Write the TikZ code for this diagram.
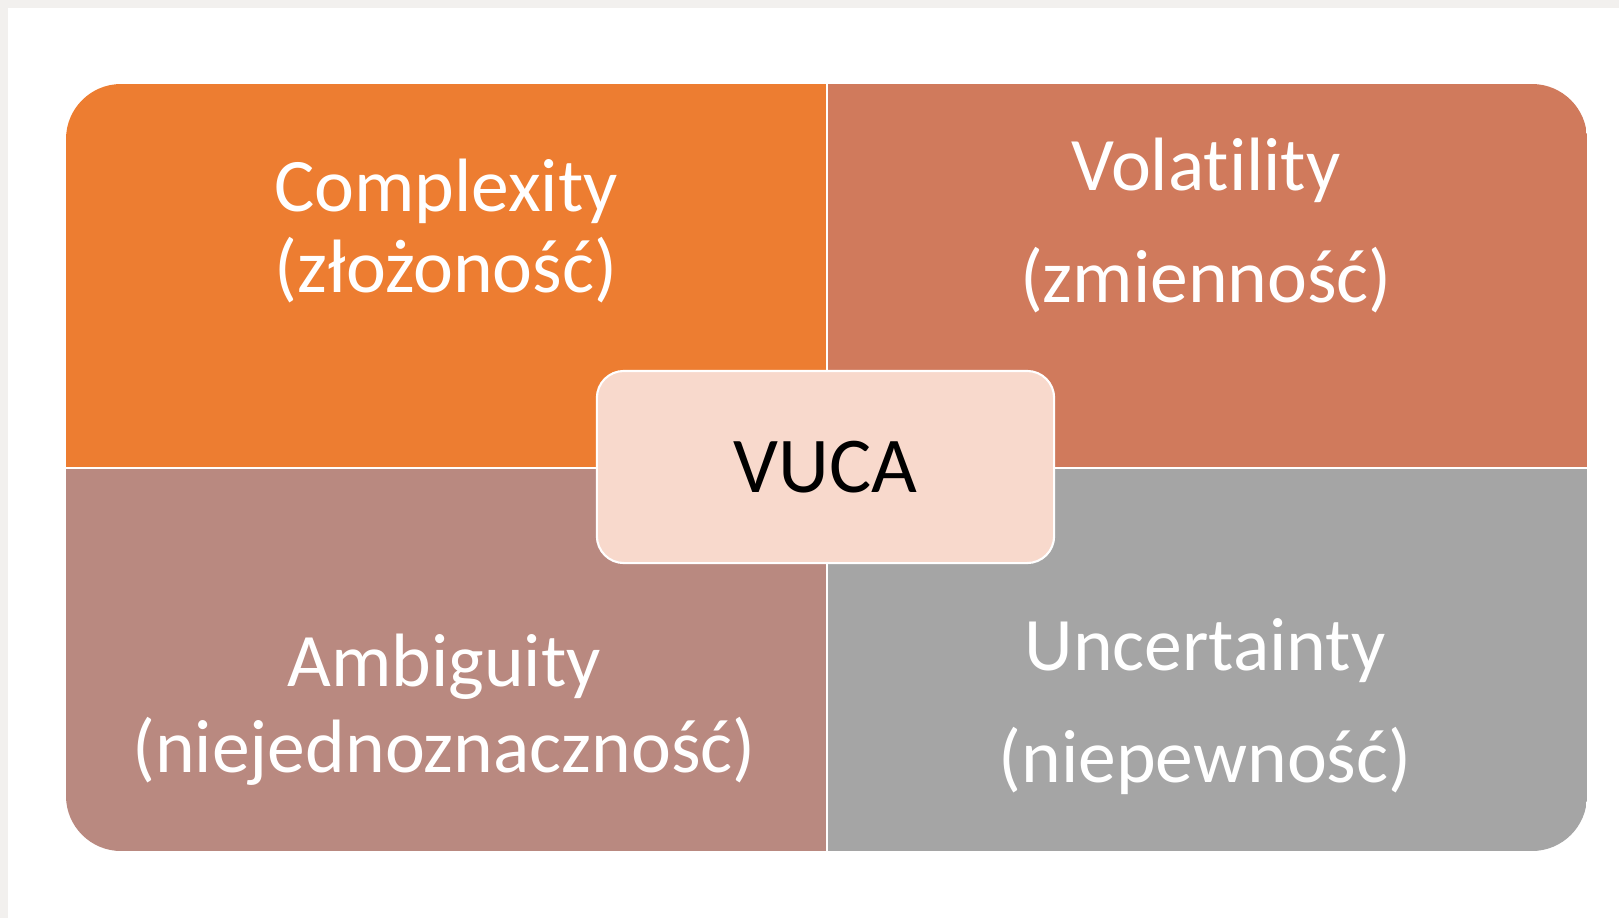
\documentclass[tikz,border=0pt]{standalone}
\usepackage{fontspec}
\setmainfont{Carlito}[Ligatures={NoCommon,NoRequired,NoContextual}]
\usepackage{tikz}

\definecolor{orangeq}{RGB}{237,125,49}
\definecolor{rustq}{RGB}{208,122,92}
\definecolor{roseq}{RGB}{185,137,128}
\definecolor{greyq}{RGB}{165,165,165}
\definecolor{hubfill}{RGB}{248,217,204}
\definecolor{edgegrey}{RGB}{242,240,238}

\begin{document}
\begin{tikzpicture}[x=0.01cm,y=-0.01cm]
	\tikzstyle{word}=[text=white, anchor=base, inner sep=0pt, font=\fontsize{21.5}{25}\selectfont]
	\tikzstyle{hub}=[rectangle, rounded corners=2.7mm, fill=hubfill, draw=white, line width=0.6pt, minimum width=4.57cm, minimum height=1.92cm, font=\fontsize{22.5}{27}\selectfont]
	\tikzstyle{split}=[white, line width=0.7pt]

	\useasboundingbox (0,0) rectangle (1619,918);
	\fill[edgegrey] (0,0) rectangle (1619,8);
	\fill[edgegrey] (0,0) rectangle (7.5,918);

	% four quarters, cut to one rounded frame
	\begin{scope}
		\clip[rounded corners=5.5mm] (66,84) rectangle (1587,851);
		\fill[orangeq] (66,84) rectangle (827,468);
		\fill[rustq] (827,84) rectangle (1587,468);
		\fill[roseq] (66,468) rectangle (827,851);
		\fill[greyq] (827,468) rectangle (1587,851);
	\end{scope}
	\draw[split] (827,84) -- (827,851);
	\draw[split] (66,468) -- (1587,468);

	\node [word] (c1) at (446,211) {Complexity};
	\node [word] (c2) at (446,292) {(złożoność)};
	\node [word] (v1) at (1206,190) {Volatility};
	\node [word] (v2) at (1206,302) {(zmienność)};
	\node [word] (a1) at (444,686) {Ambiguity};
	\node [word] (a2) at (444,772) {(niejednoznaczność)};
	\node [word] (u1) at (1205,670) {Uncertainty};
	\node [word] (u2) at (1205,782) {(niepewność)};

	\node [hub] (vuca) at (825.5,467) {VUCA};
\end{tikzpicture}
\end{document}
